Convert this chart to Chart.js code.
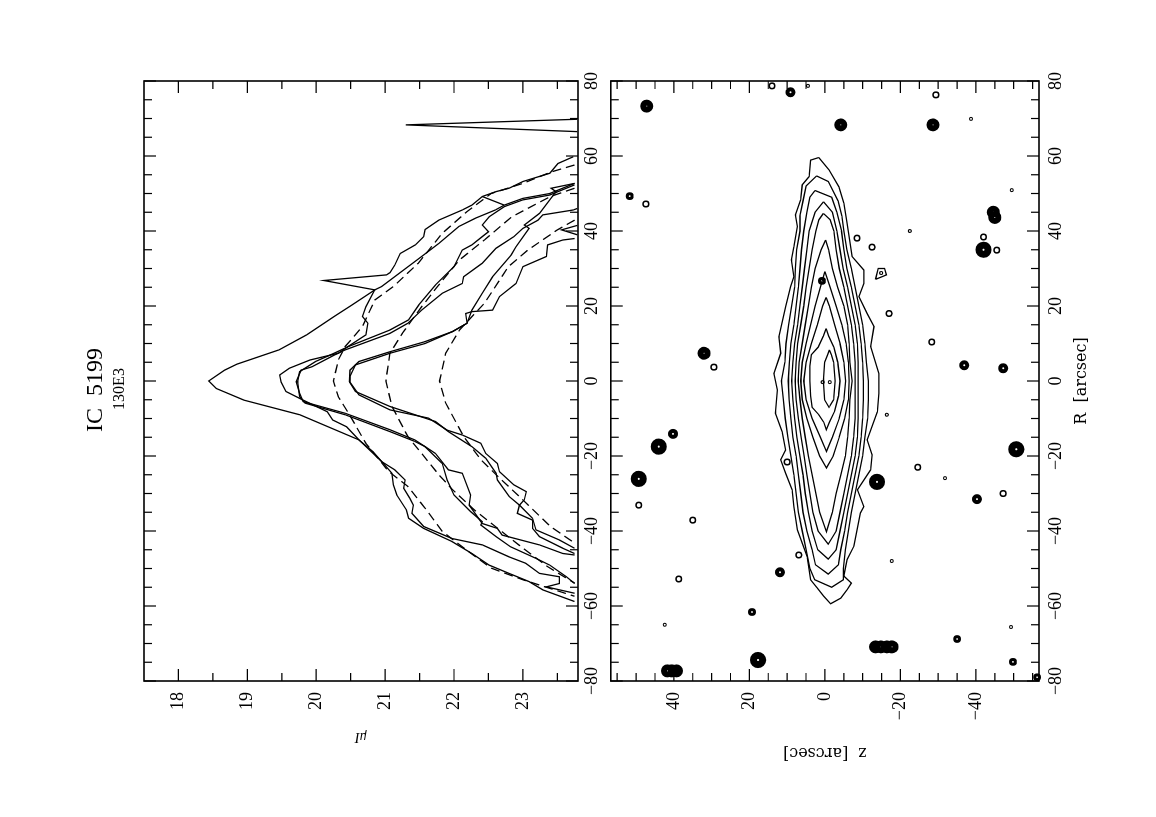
<!DOCTYPE html>
<html>
<head>
<meta charset="utf-8">
<title>IC 5199</title>
<script src="https://cdn.jsdelivr.net/npm/chart.js@4"></script>
<style>
  html, body { margin: 0; padding: 0; background: #fff; overflow: hidden; width: 1156px; height: 817px; }
  /* the plot was printed in landscape and then turned on its side */
  #sheet { position: absolute; left: 0; top: 0; width: 817px; height: 1156px; transform-origin: 0 0; transform: translate(0, 817px) rotate(-90deg); }
  canvas { position: absolute; left: 0; }
  #profiles { top: 0; }
  #contours { top: 589px; }
</style>
</head>
<body>
<div id="sheet">
  <canvas id="profiles" width="817" height="604"></canvas>
  <canvas id="contours" width="817" height="567"></canvas>
</div>
<script>
const rTicks = [-80, -60, -40, -20, 0, 20, 40, 60, 80];
const rMinorTicks = [-75, -70, -65, -55, -50, -45, -35, -30, -25, -15, -10, -5, 5, 10, 15, 25, 30, 35, 45, 50, 55, 65, 70, 75];
const muTicks = [18, 19, 20, 21, 22, 23];
const muMinorTicks = [18.5, 19.5, 20.5, 21.5, 22.5, 23.5];
const zTicks = [-40, -20, 0, 20, 40];
const zMinorTicks = [-55, -50, -45, -35, -30, -25, -15, -10, -5, 5, 10, 15, 25, 30, 35, 45, 50, 55];

// surface brightness cuts, solid
const cutAR = [59.8, 58, 55.4, 53.2, 51.4, 50.5, 49.2, 46.9, 45.6, 42.9, 40.4, 38.5, 36.3, 34, 30.9, 28.9, 28.3, 26.8, 24.3, 20.3, 17.2, 12.3, 8.3, 4.5, 2.9, 0, -2, -5.1, -9, -15.7, -19.7, -21.5, -24.6, -27.7, -30.4, -34.4, -36.6, -39.3, -42.8, -46, -49.1, -51.3, -53.5, -55.7, -58.8];
const cutAMu = [23.73, 23.51, 23.39, 23, 22.8, 22.61, 22.41, 22.26, 22.12, 21.78, 21.58, 21.56, 21.44, 21.22, 21.14, 21.07, 21.02, 20.11, 20.85, 20.52, 20.26, 19.86, 19.46, 18.85, 18.67, 18.44, 18.55, 18.95, 19.76, 20.62, 20.85, 20.95, 21.1, 21.12, 21.17, 21.31, 21.34, 21.56, 21.97, 22.26, 22.51, 22.8, 23.09, 23.29, 23.75];
const cutBR = [52.7, 50, 48.7, 46.9, 49.2, 46.9, 45.6, 43.4, 41.2, 36.7, 33.2, 29.2, 25.2, 24.3, 19.8, 17.2, 15.4, 12.3, 9.3, 7.4, 5.6, 3.4, 1.6, -0.3, -2.8, -5.1, -8.2, -10.4, -12.2, -15.7, -18.8, -21.5, -23.7, -26.4, -28.6, -31.3, -33.1, -35.3, -38.8, -42, -43.7, -46.9, -48.6, -51.3, -52.2, -54, -54.9, -56.6];
const cutBMu = [23.75, 23.39, 23, 22.73, 22.41, 22.73, 22.6, 22.31, 22.07, 21.78, 21.53, 21.24, 20.95, 20.85, 20.72, 20.67, 20.75, 20.72, 20.47, 20.32, 19.91, 19.61, 19.47, 19.49, 19.56, 19.81, 20.16, 20.24, 20.44, 20.62, 20.82, 20.95, 21.14, 21.29, 21.27, 21.36, 21.41, 21.39, 21.56, 21.97, 22.41, 22.8, 23.04, 23.24, 23.53, 23.53, 23.34, 23.75];
const cutCR = [46, 45.6, 44.3, 42.9, 40.7, 38.5, 35.4, 31.4, 27.8, 26, 23.4, 18.9, 15.4, 12.7, 8.3, 6.9, 3.8, 2.9, -0.2, -3.3, -5.5, -8.6, -13, -15.7, -17.5, -19.3, -23.7, -24.6, -30.4, -33.1, -38, -39.3, -41.1, -43.7, -46, -46.4];
const cutCMu = [23.79, 23.73, 23.29, 23.22, 23, 22.87, 22.61, 22.41, 22.14, 22.12, 21.83, 21.53, 21.33, 21.07, 20.42, 20.26, 19.94, 19.78, 19.71, 19.76, 19.81, 20.42, 21.07, 21.43, 21.58, 21.73, 21.92, 22.12, 22.24, 22.22, 22.41, 22.63, 22.7, 23.24, 23.58, 23.75];
const cutDR = [52.3, 49.6, 48.3, 46.5, 43.8, 41.6, 39.8, 38.5, 36.3, 34.9, 30.5, 25.6, 20.3, 16.3, 13.6, 9.2, 7.4, 5.2, 2.5, -0.2, -4.2, -5.9, -9, -13.5, -16.1, -17.5, -22, -26.4, -30.4, -34.8, -37.5, -38.4, -41.5, -44.2, -47.3, -49.1, -52.2, -54];
const cutDMu = [23.75, 23.39, 23, 22.73, 22.51, 22.41, 22.5, 22.41, 22.26, 22.12, 22, 21.73, 21.49, 21.34, 21.07, 20.47, 20.26, 19.99, 19.76, 19.73, 19.76, 19.84, 20.42, 21.07, 21.43, 21.58, 21.83, 21.9, 22, 22.24, 22.41, 22.39, 22.61, 22.82, 23.19, 23.39, 23.63, 23.75];
const cutER = [38, 37.6, 36.3, 33.2, 30.5, 26, 22.5, 18.9, 18.5, 18, 15.4, 13.2, 10, 7.4, 4.3, 1.2, -0.3, -3.7, -7.7, -9.9, -13.1, -14.4, -16.6, -19.3, -22, -24.2, -27.7, -29.5, -31.7, -33.1, -36.6, -39.7, -42.4, -44.6];
const cutEMu = [23.75, 23.58, 23.36, 23.34, 23, 22.9, 22.66, 22.56, 22.26, 22.17, 22.19, 21.98, 21.58, 21.07, 20.57, 20.49, 20.49, 20.62, 21.07, 21.63, 21.9, 22.12, 22.39, 22.46, 22.63, 22.66, 22.87, 23.05, 23.02, 22.95, 23.14, 23.19, 23.53, 23.75];
const cutFR = [52.7, 51.4, 50.5, 48.3, 44.7, 41.6, 40.7, 35.8, 33.6, 27.8, 23.4, 18.9, 15.4, 13.2, 10.5, 7.8, 5.2, 2.9, -0.2, -2.8, -6.8, -10.8, -13.5, -17.5, -20.6, -24.6, -26.4, -30.8, -33.1, -35.3, -37.1, -39.3, -41.5, -44.6, -46];
const cutFMu = [23.75, 23.41, 23.48, 23.39, 23.24, 23.02, 23.09, 22.9, 22.83, 22.56, 22.41, 22.26, 22.19, 21.98, 21.58, 21.07, 20.62, 20.49, 20.48, 20.57, 21.07, 21.73, 21.92, 22.26, 22.46, 22.61, 22.63, 22.8, 22.95, 22.92, 23.14, 23.14, 23.24, 23.58, 23.75];
const spikeR = [69.8, 68.3, 66.5];
const spikeMu = [23.79, 21.3, 23.79];
const spike2R = [41.5, 40.3, 39];
const spike2Mu = [23.79, 23.56, 23.79];

// exponential model cuts, dashed
const modelAR = [57.6, 55.8, 52.7, 50, 45.2, 39.4, 31.4, 25.2, 21.6, 14.5, 9.2, 5.6, 0, -4.2, -8.6, -16.6, -24.1, -28.1, -33.9, -40.1, -45.9, -49.9, -53, -57.4];
const modelAMu = [23.75, 23.42, 23, 22.54, 22.19, 21.83, 21.48, 21.12, 20.85, 20.67, 20.42, 20.32, 20.25, 20.32, 20.47, 20.72, 21.05, 21.33, 21.58, 21.83, 22.24, 22.54, 23, 23.75];
const modelBR = [51.4, 49.2, 43.8, 37.6, 32.3, 25.2, 19.8, 12.7, 7.4, 0, -6.8, -14.8, -19.3, -25, -29, -34.3, -43.7, -49.4, -53.9];
const modelBMu = [23.75, 23.4, 22.84, 22.44, 22.08, 21.76, 21.53, 21.25, 21.07, 21.01, 21.1, 21.33, 21.53, 21.78, 21.98, 22.29, 22.94, 23.35, 23.75];
const modelCR = [42.9, 40.3, 34.9, 30.5, 20.7, 13.6, 7.4, 0, -5.9, -14.8, -21, -25.5, -31.7, -38.8, -43.2];
const modelCMu = [23.75, 23.5, 23.07, 22.79, 22.44, 22.08, 21.88, 21.79, 21.88, 22.14, 22.39, 22.64, 23, 23.4, 23.75];

// isophotes of the disc, outermost first
const iso1R = [59.6, 58.9, 54.5, 52.3, 48.3, 44.3, 41.2, 35.8, 32.3, 27.8, 25.2, 19.8, 11.8, 7.4, 2, -2.4, -8.6, -13.5, -18.4, -21, -24.6, -29, -33.5, -39.7, -46.8, -53, -55.2, -57.4, -59.4, -57.9, -55.6, -53.9, -52, -47.6, -44, -35.2, -33.5, -29, -23.7, -19.7, -15.7, -8.2, -3.3, 2, 9.2, 14.5, 18, 22.5, 26, 29.6, 33.2, 42, 47.4, 51.8, 56.3, 59.6];
const iso1Z = [1.6, 3.8, 4.2, 6, 6.4, 7.8, 7.3, 8.2, 8.9, 8.2, 9.1, 10.4, 12.2, 11.7, 13.5, 12.6, 13.1, 11.3, 10.4, 11.7, 10.4, 8.7, 8.2, 7.3, 4.7, 3.8, 2, 0.3, -1.5, -4.2, -5.9, -7, -5, -5.9, -7.7, -9.4, -10.3, -8.6, -12.1, -12.5, -11.2, -13.9, -14.3, -14.3, -12.1, -13, -11.2, -9, -10.3, -10.3, -7.2, -5.9, -5, -3.7, -1.1, 1.6];
const iso2R = [54.7, 52, 48, 44, 40, 35, 30, 25, 20, 15, 10, 5, 0, -5, -10, -15, -20, -25, -30, -35, -40, -45, -50, -53, -55, -53, -50, -45, -40, -35, -30, -25, -20, -15, -10, -5, 0, 5, 10, 15, 20, 25, 30, 35, 40, 44, 48, 53.2, 54.7];
const iso2Z = [2.2, 5, 5.8, 6.6, 6.6, 7.5, 7.8, 8, 8.8, 9.6, 10.3, 10.6, 11.5, 11, 10.5, 9.8, 9, 8.2, 7.6, 7, 6, 5, 4, 2.7, -1.8, -4.9, -4.9, -5.4, -6.2, -7, -8, -9, -10, -10.6, -11.3, -11.5, -11.5, -11, -10.6, -10, -9, -8, -7, -5.8, -5, -4.5, -3.5, -0.9, 2.2];
const iso3R = [50.8, 49, 45, 40, 35, 30, 25, 20, 15, 10, 5, 0, -5, -10, -15, -20, -25, -30, -35, -40, -45, -49, -51.5, -49, -45, -40, -35, -30, -25, -20, -15, -10, -5, 0, 5, 10, 15, 20, 25, 30, 35, 40, 45, 49, 50.8];
const iso3Z = [2.6, 4, 4.8, 5.6, 6.2, 6.6, 7, 7.6, 8.2, 9, 9.4, 9.7, 9.5, 9, 8.5, 7.6, 7, 6.4, 5.8, 4.8, 3.4, 2.5, -0.9, -3.6, -4.2, -5.2, -6, -7, -8, -9, -9.6, -10, -10.2, -10.2, -10, -9.6, -9, -8, -7, -5.8, -5, -4.4, -3.2, -1.8, 2.6];
const iso4R = [47.8, 45, 40, 35, 30, 25, 20, 15, 10, 5, 0, -5, -10, -15, -20, -25, -30, -35, -40, -45, -47.5, -45, -40, -35, -30, -25, -20, -15, -10, -5, 0, 5, 10, 15, 20, 25, 30, 35, 40, 45, 47.8];
const iso4Z = [0.4, 2.6, 4.2, 4.8, 5.4, 6, 6.6, 7.2, 8, 8.5, 8.8, 8.5, 8, 7.4, 6.6, 5.8, 5.2, 4.4, 3.4, 1.9, -0.9, -3, -4, -5, -6, -7, -8, -8.6, -8.8, -8.8, -8.8, -8.8, -8.6, -8, -7, -6, -4.8, -4, -3.2, -2, 0.4];
const iso5R = [44.7, 43, 40, 35, 30, 25, 20, 15, 10, 5, 0, -5, -10, -15, -20, -25, -30, -35, -40, -43.5, -40, -35, -30, -25, -20, -15, -10, -5, 0, 5, 10, 15, 20, 25, 30, 35, 40, 43, 44.7];
const iso5Z = [0.4, 1.6, 2.4, 3.4, 4.2, 5, 5.6, 6.4, 7.2, 7.6, 7.9, 7.6, 7, 6.3, 5.5, 4.8, 4, 3.2, 1.8, -0.9, -3, -4, -5, -6, -7, -7.6, -8, -8, -8, -8, -7.6, -7, -6, -5, -3.8, -3, -2.4, -1.4, 0.4];
const iso6R = [37.6, 35, 30, 25, 20, 15, 10, 5, 0, -5, -10, -15, -20, -25, -30, -35, -40.2, -35, -30, -25, -20, -15, -10, -5, 0, 5, 10, 15, 20, 25, 30, 35, 37.6];
const iso6Z = [-0.2, 1, 2.6, 3.6, 4.4, 5.2, 6, 6.8, 7.1, 6.6, 6, 5.2, 4.4, 3.4, 2.4, 1.4, -0.4, -2, -3, -4.2, -5.4, -6, -6.4, -6.6, -7.2, -6.6, -6.4, -6, -5, -3.4, -2, -1, -0.2];
const iso7R = [29.2, 25, 20, 15, 10, 5, 0, -5, -10, -15, -20, -23.2, -20, -15, -10, -5, 0, 5, 10, 15, 20, 25, 29.2];
const iso7Z = [0, 1.2, 2.6, 3.8, 5, 6, 6.4, 6, 4.8, 3.2, 1.4, -0.4, -2.2, -3.8, -5.2, -6.2, -6.4, -6.2, -5.6, -4.5, -3, -1.4, 0];
const iso8R = [22.3, 20, 15, 10, 5, 0, -5, -10, -15, -18.8, -15, -10, -5, 0, 5, 10, 15, 20, 22.3];
const iso8Z = [-0.3, 0.6, 2, 3.6, 5, 5.6, 5, 3.4, 1.2, -0.4, -2, -3.8, -5, -5.5, -5, -4, -2.6, -1.2, -0.3];
const iso9R = [14, 12, 9, 7, 4, 0, -4, -7, -9, -11, -13, -11, -8, -4, 0, 5, 9, 12, 14];
const iso9Z = [-0.3, 0.4, 1.8, 3.6, 4, 4, 3.8, 3.4, 1.6, 0.3, -0.4, -1.2, -2.6, -3.6, -4, -3.4, -2.4, -1, -0.3];
const iso10R = [8.3, 7, 5, 0, -5, -7, -5, 0, 5, 7, 8.3];
const iso10Z = [-1.2, -0.7, 0.1, 0.4, 0.1, -1.1, -2.3, -2.7, -2.3, -1.7, -1.2];
// the loop around the knot next to the disc at R = 29
const knotR = [27.1, 30, 30, 28.3, 27.1];
const knotZ = [-13.4, -14.1, -15.8, -16.3, -13.4];

// field stars, by how many isophotes pile up on them
const hugeStarR = [-74.4, 35, -18.2, -26.1, -26.9, -17.5];
const hugeStarZ = [17.7, -42, -50.7, 49.3, -13.8, 44];
const brightStarR = [73.3, 68.3, 68.3, 7.4, 45, 43.6, -77.3, -77.3, -77.3, -70.9, -70.9, -70.9, -70.9];
const brightStarZ = [47.2, -4.2, -28.6, 32, -44.6, -45, 39.3, 40.5, 41.7, -13.4, -14.8, -16.4, -17.8];
const mediumStarR = [77, 4.2, 3.4, -14.1, -31.5, -51];
const mediumStarZ = [9.1, -36.9, -47.2, 40.2, -40.3, 11.9];
const smallStarR = [49.3, 26.7, -61.6, -68.8, -74.9, -79];
const smallStarZ = [51.7, 0.8, 19.3, -35, -49.8, -56.2];
const ringStarR = [47.2, 76.3, 38.1, 35.7, 18, 10.4, 3.7, -33.1, -37.1, -52.8, -46.4, -21.6, -23, -30, 38.4, 34.9, 78.7];
const ringStarZ = [47.4, -29.4, -8.5, -12.5, -17, -28.3, 29.4, 49.3, 35, 38.7, 6.9, 10, -24.6, -47.2, -42, -45.5, 14];
const faintStarR = [69.9, 50.9, 40, 78.7, 28.8, -65, -25.9, -9, -48, -65.6, -0.3, -0.3];
const faintStarZ = [-38.7, -49.5, -22.5, 4.5, -14.9, 42.4, -31.8, -16.4, -17.7, -49.3, 0.6, -1.3];

const serif = "'Liberation Serif', 'DejaVu Serif', serif";
const wideSerif = "'DejaVu Serif', serif";

function zip(xs, ys) {
  return xs.map((x, i) => ({ x: x, y: ys[i] }));
}

function lineSet(xs, ys, dash) {
  return {
    data: zip(xs, ys),
    showLine: true,
    tension: 0,
    borderColor: "#000",
    borderWidth: 1.3,
    borderDash: dash || [],
    pointRadius: 0,
  };
}

function starSet(xs, ys, radius, width) {
  return {
    data: zip(xs, ys),
    showLine: false,
    pointRadius: radius,
    pointBorderWidth: width,
    pointBorderColor: "#000",
    pointBackgroundColor: "#fff",
    clip: false,
  };
}

function tickLabel(value) {
  return String(value).replace("-", "\u2212");
}

// PGPLOT draws its ticks inwards on all four sides, and chart.js only outwards
const frameTicks = {
  id: "frameTicks",
  afterDatasetsDraw(chart, args, opts) {
    const { ctx, chartArea: a, scales } = chart;
    ctx.save();
    ctx.strokeStyle = "#000";
    ctx.lineWidth = 1.2;
    ctx.beginPath();
    const markX = (list, len) => {
      list.forEach((v) => {
        const x = scales.x.getPixelForValue(v);
        ctx.moveTo(x, a.top);
        ctx.lineTo(x, a.top + len);
        ctx.moveTo(x, a.bottom);
        ctx.lineTo(x, a.bottom - len);
      });
    };
    const markY = (list, len) => {
      list.forEach((v) => {
        const y = scales.y.getPixelForValue(v);
        ctx.moveTo(a.left, y);
        ctx.lineTo(a.left + len, y);
        ctx.moveTo(a.right, y);
        ctx.lineTo(a.right - len, y);
      });
    };
    markX(rTicks, 12);
    markX(rMinorTicks, 8);
    markY(opts.major, 12);
    markY(opts.minor, 8);
    ctx.stroke();
    ctx.lineWidth = 1.6;
    ctx.strokeRect(a.left, a.top, a.right - a.left, a.bottom - a.top);
    ctx.restore();
  },
};

function panelOptions(cfg) {
  return {
    responsive: false,
    animation: false,
    devicePixelRatio: 1,
    layout: { padding: cfg.padding, autoPadding: false },
    plugins: {
      legend: { display: false },
      tooltip: { enabled: false },
      title: cfg.title || { display: false },
      subtitle: cfg.subtitle || { display: false },
      frameTicks: { major: cfg.yTicks, minor: cfg.yMinor },
    },
    scales: {
      x: {
        type: "linear",
        min: -80,
        max: 80,
        afterBuildTicks: (s) => { s.ticks = rTicks.map((v) => ({ value: v })); },
        afterFit: (s) => { s.height = cfg.xHeight; },
        grid: { display: false, drawTicks: false },
        border: { display: false },
        title: cfg.xTitle || { display: false },
        ticks: {
          color: "#000",
          font: { family: serif, size: 18 },
          maxRotation: 0,
          autoSkip: false,
          padding: cfg.xPad,
          callback: tickLabel,
        },
      },
      y: {
        type: "linear",
        min: cfg.yMin,
        max: cfg.yMax,
        reverse: cfg.yReverse,
        afterBuildTicks: (s) => { s.ticks = cfg.yTicks.map((v) => ({ value: v })); },
        afterFit: (s) => { s.width = 136; },
        grid: { display: false, drawTicks: false },
        border: { display: false },
        title: cfg.yTitle,
        ticks: {
          color: "#000",
          font: { family: serif, size: 18 },
          autoSkip: false,
          padding: 11,
          callback: tickLabel,
        },
      },
    },
  };
}

new Chart(document.getElementById("profiles"), {
  type: "scatter",
  data: {
    datasets: [
      lineSet(cutAR, cutAMu),
      lineSet(cutBR, cutBMu),
      lineSet(cutCR, cutCMu),
      lineSet(cutDR, cutDMu),
      lineSet(cutER, cutEMu),
      lineSet(cutFR, cutFMu),
      lineSet(spikeR, spikeMu),
      lineSet(spike2R, spike2Mu),
      lineSet(modelAR, modelAMu, [9, 5]),
      lineSet(modelBR, modelBMu, [9, 5]),
      lineSet(modelCR, modelCMu, [9, 5]),
    ],
  },
  options: panelOptions({
    padding: { right: 81, bottom: 0, top: 0, left: 0 },
    yMin: 17.5,
    yMax: 23.8,
    yReverse: true,
    yTicks: muTicks,
    yMinor: muMinorTicks,
    xHeight: 26,
    xPad: 3,
    title: {
      display: true,
      // the trailing spaces push the heading off centre, as printed
      text: "IC  5199   ",
      color: "#000",
      fullSize: false,
      font: { family: serif, size: 24, weight: "normal" },
      padding: { top: 81, bottom: 0 },
    },
    subtitle: {
      display: true,
      text: "130E3    ",
      color: "#000",
      fullSize: false,
      font: { family: serif, size: 16, weight: "normal" },
      padding: { top: 0, bottom: 15 },
    },
    yTitle: {
      display: true,
      text: "\u03bcI",
      color: "#000",
      font: { family: serif, size: 14, style: "italic" },
      padding: { top: 72, bottom: 0 },
    },
  }),
  plugins: [frameTicks],
});

new Chart(document.getElementById("contours"), {
  type: "scatter",
  data: {
    datasets: [
      lineSet(iso1R, iso1Z),
      lineSet(iso2R, iso2Z),
      lineSet(iso3R, iso3Z),
      lineSet(iso4R, iso4Z),
      lineSet(iso5R, iso5Z),
      lineSet(iso6R, iso6Z),
      lineSet(iso7R, iso7Z),
      lineSet(iso8R, iso8Z),
      lineSet(iso9R, iso9Z),
      lineSet(iso10R, iso10Z),
      lineSet(knotR, knotZ),
      starSet(hugeStarR, hugeStarZ, 4.6, 7),
      starSet(brightStarR, brightStarZ, 3.5, 6),
      starSet(mediumStarR, mediumStarZ, 3, 4),
      starSet(smallStarR, smallStarZ, 2.4, 3),
      starSet(ringStarR, ringStarZ, 2.8, 1.5),
      starSet(faintStarR, faintStarZ, 1.5, 1.1),
    ],
  },
  options: panelOptions({
    padding: { right: 81, top: 0, bottom: 0, left: 0 },
    yMin: -56.7,
    yMax: 56.7,
    yReverse: false,
    yTicks: zTicks,
    yMinor: zMinorTicks,
    xHeight: 117,
    xPad: 6,
    xTitle: {
      display: true,
      text: "R  [arcsec]",
      color: "#000",
      font: { family: wideSerif, size: 16 },
      padding: { top: 0, bottom: 65 },
    },
    yTitle: {
      display: true,
      text: "z  [arcsec]",
      color: "#000",
      font: { family: wideSerif, size: 16 },
      padding: { top: 55, bottom: 0 },
    },
  }),
  plugins: [frameTicks],
});
</script>
</body>
</html>
